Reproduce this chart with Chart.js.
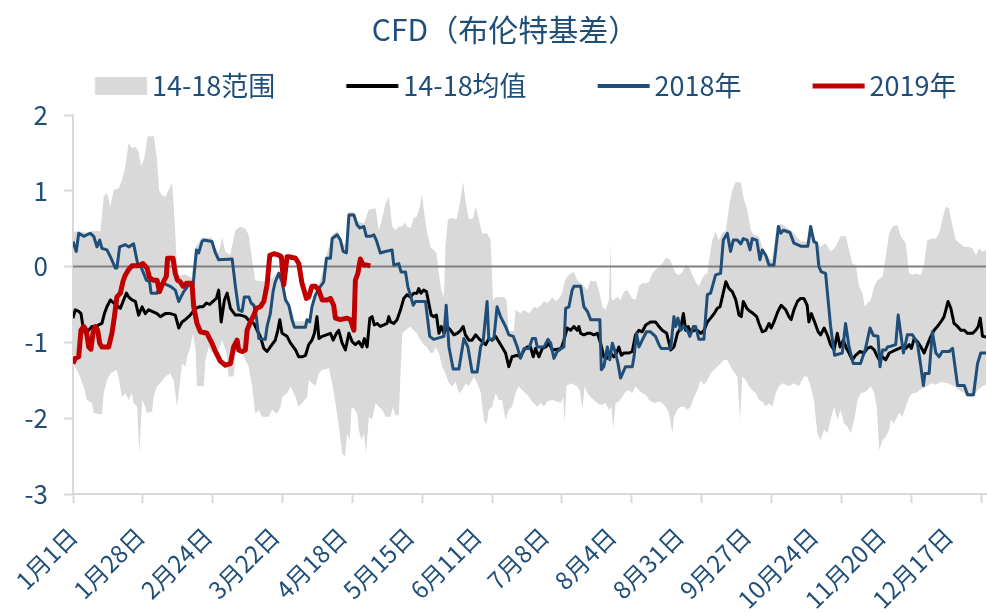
<!DOCTYPE html>
<html>
<head>
<meta charset="utf-8">
<script src="https://cdn.jsdelivr.net/npm/chart.js@4.4.1/dist/chart.umd.min.js"></script>
<style>html,body{margin:0;padding:0;background:#fff}canvas{display:block}</style>
</head>
<body>
<canvas id="c" width="987" height="615"></canvas>
<script>
// ---- categories / tick labels (day index within a 366-day year) ----
const dateLabels = ['1月1日','1月28日','2月24日','3月22日','4月18日','5月15日','6月11日','7月8日','8月4日','8月31日','9月27日','10月24日','11月20日','12月17日'];
const labelDays = [0,27,54,81,108,135,162,189,216,243,270,297,324,351];
const tickMarkDays = [0,28,56,84,112,140,168,196,224,252,280,308,336,364];

// ---- 14-18 range (upper edge) ----
const bandHighDays = [0,2,5,8,11,12.3,13.6,15,16.3,18.3,19.6,21,22.3,23.6,25,26.3,27.3,28.6,29.9,32.4,33.7,34.5,35.6,37,39.7,40.4,41,41.7,42.5,45,47.5,49,51.5,55.7,57.1,58.4,59.8,61,63,65.1,67.1,69.1,70.4,71.8,73.1,76,80,82.5,84,85.5,87,89,93,94.5,96,97.2,99,101.6,103.9,106,108,109.8,110.5,112.6,114,116.6,118.6,121.3,122.6,123.7,125.3,126.6,128,129.3,130.6,132,132.9,134,135.3,136.6,137.9,139,139.9,140.9,141.9,143.3,144.6,145.7,146.7,147.6,148.7,149.3,150.3,152,153.8,155.1,156.4,157.3,158.7,160.4,161.4,162.7,164,166,167.4,168.4,169.4,172.7,173.8,174.7,176.7,177.4,179.4,180.8,182.8,184.8,186.1,187.5,188.8,190.1,191.4,192.1,193.5,194.8,196.1,197.1,198.1,199.5,200.8,202.1,203.5,204.8,206.2,207.5,208.6,209.5,210.8,212.2,213.5,214.8,215.5,215.9,216.8,218.2,219.5,220.9,222.2,224.2,225.5,226.9,228.2,229.6,230.9,232.2,233.5,234.9,236.2,237.6,238.9,240.3,241.6,242.9,244.3,245.6,246.9,248.3,249.6,250.9,252.9,254.3,255,256.3,257.6,258.9,260.3,261.7,263,264.3,265.7,267.7,269,270.3,271.7,273,275,276.3,278.3,280.3,282.1,283.7,286.3,289,291.7,294.3,295.7,297.7,299.7,301.7,303.7,305.7,307.7,309.8,311.1,312.5,313.8,315.1,316.5,317.4,318.5,319.8,321.2,322.5,324.5,325.8,327.2,328.5,330.5,331.8,333.8,335.2,336.5,337.9,339.9,341.2,342.5,344.5,345.9,347.2,348.5,349.9,351.2,352.6,353.9,355.3,357.3,359.3,360.6,362,363.3,364.6,366];
const bandHighVals = [0.45,0.47,0.45,0.47,0.47,0.92,0.97,0.79,1.01,1.03,1.14,1.32,1.63,1.56,1.58,1.52,1.32,1.43,1.72,1.72,1.41,1.01,0.94,0.92,1.10,0.79,0.44,0.0,-0.12,-0.10,-0.15,0.25,0.38,0.38,0.25,0.18,0.39,0.20,0.15,0.48,0.53,0.50,0.42,0.09,-0.18,-0.20,-0.15,-0.05,-0.10,-0.40,-0.50,-0.72,-0.72,-0.68,-0.48,-0.33,-0.20,0.15,0.42,0.47,0.30,0.30,0.72,0.72,0.60,0.57,0.75,0.77,0.48,0.61,0.83,0.92,0.53,0.48,0.53,0.53,0.59,0.53,0.51,0.64,0.66,0.79,0.95,0.68,0.46,0.26,0.22,0.18,-0.09,-0.31,-0.40,0.26,0.62,0.64,0.62,0.84,1.12,0.88,0.62,0.64,0.79,0.62,0.44,0.44,0.35,-0.44,-0.40,-0.40,-0.44,-0.85,-0.85,-0.57,-0.62,-0.57,-0.62,-0.53,-0.55,-0.51,-0.46,-0.48,-0.44,-0.40,-0.46,-0.42,-0.35,-0.20,-0.13,-0.09,-0.07,-0.18,-0.22,-0.26,-0.31,-0.18,-0.20,-0.18,-0.31,-0.53,-0.57,-0.44,0.31,-0.44,-0.44,-0.40,-0.44,-0.33,-0.31,-0.42,-0.44,-0.26,-0.22,-0.22,-0.20,-0.09,-0.04,0.00,0.04,0.11,0.11,0.02,-0.09,-0.11,-0.07,0.02,0.00,-0.11,-0.20,-0.26,-0.11,-0.09,0.09,0.35,0.46,0.35,0.44,0.48,0.79,1.01,1.12,1.11,0.88,0.75,0.48,0.42,0.40,0.26,0.13,0.09,0.53,0.57,0.51,0.44,0.33,0.33,0.55,0.35,0.26,0.31,0.20,0.26,0.40,0.40,0.22,0.04,0.02,-0.26,-0.35,-0.53,-0.48,-0.44,-0.26,-0.18,-0.13,0.13,0.44,0.53,0.55,0.40,0.31,-0.09,-0.11,-0.09,-0.11,0.04,0.35,0.37,0.37,0.44,0.62,0.79,0.77,0.53,0.35,0.31,0.26,0.26,0.24,0.15,0.24,0.20,0.22];

// ---- 14-18 range (lower edge) ----
const bandLowDays = [0,2.3,4.3,5.6,7.6,8.3,11.6,12.3,13.6,15,17.6,18.7,19.6,21,22.3,23.6,24.3,25.7,26.6,27.7,29,29.7,31.7,32.3,33.7,35,37,39,40.4,41.7,43,43.7,45.1,45.7,47.1,48.1,49.1,49.7,52.4,53.1,54.4,55.7,57.1,58.4,59.8,61.5,62.4,64.4,65.1,66.4,67.8,69.1,70.4,71.8,73.1,74.5,75.8,78.5,79.8,81.8,83.2,83.8,85.8,87.2,89.2,90.5,91.8,93.9,94.5,95.9,97.2,98.5,99.9,102.6,103.9,105.2,106.6,107.9,109,109.9,110.9,111.7,113,113.9,114.6,115.7,116.6,117.5,118.6,119.9,121.3,122.6,123.9,125.3,127.3,128.2,129.3,130.6,131.3,132,133.3,135.3,136.6,137.9,139.3,140.6,141.9,143.3,144.4,145.3,146.7,148,149.3,150.7,152,153.4,154.7,156,157.4,158.7,160.7,162,163.4,164.7,165.8,166.7,168,169.4,170.7,172,173.4,174.7,176,177.4,178.7,180.1,182.1,184.1,186.1,187.5,188.8,190.1,192.1,194.1,195.5,196.5,197.1,197.8,199.5,200.8,202.1,203.2,204.2,205.1,206.2,207.5,209.5,210.8,212.2,213.5,214.8,215.8,216.6,217.5,218.8,220.2,221.5,222.9,224.2,225.5,226.9,228.2,229.6,230.9,232.9,234.9,236.2,237.6,238.9,240.3,240.9,242.3,243.6,244.9,246.3,247.6,249,250.3,251.6,253,254.3,255.6,257,258.3,259.6,261,262.3,263.6,265,266.3,267.4,268.3,269.7,271,272.3,273.7,275,276.3,277.7,279,280.3,281.7,283,284.3,285.7,287,289,291,293,294.3,295.7,297,298.4,299.7,301.1,302.4,303.7,305.1,306.4,307.7,309.1,310.4,311.8,313.2,314.5,315.8,317.8,319.8,321.2,322.2,323.2,324.5,325.8,327.2,327.8,328.9,329.8,331.2,332.5,333.8,335.2,336.5,337.9,339.2,340.5,342.5,343.9,345.9,347.9,350.6,353.2,355.3,357.3,358.6,361,362.6,364.6,366];
const bandLowVals = [-1.27,-1.41,-1.59,-1.76,-1.80,-1.93,-1.95,-1.67,-1.50,-1.41,-1.36,-1.54,-1.72,-1.67,-1.76,-1.67,-1.80,-1.85,-2.46,-1.76,-1.85,-1.93,-1.91,-1.72,-1.58,-1.54,-1.45,-1.41,-1.50,-1.85,-1.50,-1.28,-1.32,-1.19,-1.06,-0.88,-1.10,-1.58,-1.58,-1.23,-1.06,-1.14,-1.06,-1.10,-0.97,-1.14,-1.45,-1.45,-1.14,-1.06,-1.14,-1.23,-1.32,-1.58,-1.94,-1.89,-1.98,-1.98,-1.89,-1.94,-1.85,-1.72,-1.67,-1.58,-1.72,-1.85,-1.80,-1.72,-1.50,-1.54,-1.58,-1.41,-1.36,-1.34,-1.54,-1.80,-2.11,-2.46,-2.51,-2.20,-2.29,-1.85,-1.89,-1.94,-2.16,-2.29,-2.20,-2.46,-1.98,-2.02,-1.80,-1.85,-1.89,-1.98,-1.98,-1.85,-1.96,-1.96,-1.41,-0.88,-0.84,-0.79,-0.84,-0.88,-0.97,-1.03,-1.06,-1.14,-1.14,-1.06,-1.14,-1.32,-1.41,-1.54,-1.58,-1.52,-1.67,-1.63,-1.54,-1.58,-1.45,-1.54,-1.65,-2.02,-2.09,-1.89,-1.85,-1.67,-1.76,-1.76,-2.02,-1.89,-1.85,-1.67,-1.58,-1.63,-1.69,-1.78,-1.85,-1.80,-1.85,-1.78,-1.76,-1.78,-1.80,-1.72,-2.07,-1.58,-1.54,-1.56,-1.58,-1.63,-1.89,-1.58,-1.67,-1.72,-1.78,-1.82,-1.82,-1.80,-1.89,-1.85,-2.13,-1.80,-1.78,-1.72,-1.65,-1.63,-1.67,-1.58,-1.63,-1.67,-1.69,-1.76,-1.80,-1.78,-1.80,-1.85,-1.93,-2.20,-1.98,-1.89,-1.85,-1.85,-1.89,-1.85,-1.72,-1.63,-1.50,-1.56,-1.50,-1.41,-1.36,-1.32,-1.28,-1.23,-1.23,-1.32,-1.39,-1.45,-2.02,-1.45,-1.50,-1.58,-1.63,-1.67,-1.76,-1.78,-1.85,-1.80,-1.85,-1.67,-1.58,-1.54,-1.56,-1.58,-1.54,-1.58,-1.45,-1.45,-1.58,-1.76,-2.20,-2.29,-2.15,-2.20,-2.02,-1.85,-2.02,-1.89,-2.07,-2.11,-2.20,-2.02,-1.76,-1.67,-1.65,-1.58,-1.67,-1.85,-2.42,-2.29,-2.24,-2.15,-2.02,-2.07,-2.02,-1.93,-1.98,-1.85,-1.72,-1.67,-1.67,-1.63,-1.61,-1.58,-1.54,-1.56,-1.52,-1.54,-1.58,-1.63,-1.67,-1.72,-1.72,-1.63,-1.58,-1.56];

// ---- 14-18 average ----
const avgDays = [0,0.9,2.3,3.2,4,4.9,6.3,7.6,8.9,10.3,11.6,12.6,13.6,15,16.3,17.6,19,20.3,21.4,22.3,23.6,25,26.3,27.7,29,30.3,31.7,33.7,35,37,39,41,42.4,43.7,45,47,49.1,50.8,52.1,53.5,54.8,56.1,57.5,58.4,59.4,60.7,61.8,63.1,65.1,67.1,69.1,71.1,72.5,73.8,75.1,76.5,77.8,79.1,81.1,82.1,82.9,83.8,85.8,87.2,89.2,90.5,91.8,93.2,94.5,95.8,96.8,97.8,98.6,99.9,101.6,103.2,104.3,105.6,106.5,107.9,109.2,110.6,111.9,113.2,114.6,115.9,116.8,117.9,119,119.9,120.8,121.9,123.2,124.6,125.9,126.6,127.3,128.6,129.9,131.3,132.6,133.9,135.3,136.6,137.9,138.6,139.5,140.6,141.7,142.6,143.6,144.6,145.7,146.7,147.6,148.7,150,151.4,152.7,154,155.4,156.4,157.3,158.7,160,161.4,162.7,164,165.4,166.7,168,169.4,170.7,172,173.4,174.7,176,178.1,179.4,180.8,182.1,183.4,184.5,185.4,186.8,188.1,189.5,190.8,192.1,194.1,195.7,196.8,198.1,199.5,200.8,202.1,202.8,203.5,204.8,206.2,207.5,208.8,210.2,211.5,212.8,214.2,215.5,216.8,217.9,218.8,219.8,220.9,222.9,224.2,225.5,226.9,228.2,229.6,231.5,233.5,234.9,236.2,238,239.6,240.9,242.3,243.6,244.7,245.6,246.6,247.6,249,250.3,251.7,253,254.3,255.6,257,258.3,259.4,260.3,261.7,263,264.3,265.7,267,267.9,268.7,270.1,271.4,272.7,274.1,275,276.3,277.7,279,279.9,281,282.6,283.9,285.7,287,287.9,289,290.4,291.7,293,294.3,295,296,297.3,298.7,299.7,301.1,302.4,303.7,305.1,306.4,307.5,308.8,310.1,311.1,312.4,313.7,315.5,317.1,318.4,319.8,321.2,322.2,323.2,324.5,325.8,327.2,328.5,329.8,331.2,332.5,333.8,335.2,336.1,337.2,338.5,339.9,341.2,342.5,343.9,345.2,346.5,347.9,349.2,350.8,351.9,353.2,354.6,355.9,357.3,358.6,360.6,361.9,362.9,363.7,364.6,366];
const avgVals = [-0.68,-0.57,-0.59,-0.62,-0.79,-0.88,-0.84,-0.79,-0.81,-0.77,-0.75,-0.62,-0.53,-0.44,-0.48,-0.51,-0.55,-0.44,-0.35,-0.40,-0.44,-0.46,-0.64,-0.53,-0.62,-0.57,-0.59,-0.62,-0.66,-0.62,-0.62,-0.64,-0.81,-0.73,-0.70,-0.64,-0.55,-0.53,-0.53,-0.48,-0.50,-0.46,-0.42,-0.31,-0.73,-0.44,-0.35,-0.55,-0.64,-0.64,-0.66,-0.73,-0.75,-0.84,-0.92,-1.08,-1.12,-1.06,-0.97,-0.84,-0.70,-0.88,-0.92,-1.01,-1.10,-1.19,-1.19,-1.17,-1.03,-0.97,-0.88,-0.66,-0.95,-0.92,-0.90,-0.88,-0.97,-0.88,-0.84,-1.01,-1.10,-0.88,-0.99,-1.03,-0.99,-1.06,-0.95,-1.06,-0.68,-0.66,-0.77,-0.75,-0.79,-0.77,-0.75,-0.66,-0.73,-0.75,-0.70,-0.57,-0.42,-0.37,-0.40,-0.35,-0.35,-0.29,-0.35,-0.31,-0.33,-0.48,-0.64,-0.66,-0.64,-0.88,-0.79,-0.88,-0.79,-0.84,-0.90,-0.88,-0.84,-0.79,-0.90,-0.97,-0.97,-0.90,-0.95,-0.99,-1.03,-0.95,-0.97,-0.92,-0.99,-1.06,-1.14,-1.32,-1.19,-1.17,-1.19,-1.10,-1.06,-1.06,-1.19,-1.08,-1.19,-1.08,-1.06,-1.01,-1.10,-1.09,-1.08,-0.97,-0.81,-0.84,-0.79,-0.84,-0.79,-0.88,-0.90,-0.88,-0.88,-0.90,-0.88,-1.01,-1.19,-1.21,-1.14,-1.19,-1.14,-1.06,-1.17,-1.14,-1.14,-1.12,-0.90,-0.84,-0.86,-0.77,-0.73,-0.73,-0.79,-0.84,-0.88,-1.10,-1.06,-0.88,-0.81,-0.62,-0.84,-0.79,-0.86,-0.84,-0.84,-0.88,-0.84,-0.73,-0.68,-0.62,-0.55,-0.53,-0.40,-0.20,-0.29,-0.33,-0.44,-0.64,-0.66,-0.46,-0.55,-0.59,-0.62,-0.66,-0.75,-0.86,-0.84,-0.75,-0.81,-0.73,-0.59,-0.51,-0.57,-0.66,-0.70,-0.57,-0.46,-0.42,-0.42,-0.51,-0.73,-0.62,-0.73,-0.86,-0.90,-0.81,-0.90,-1.03,-1.10,-0.88,-1.06,-0.97,-1.08,-1.14,-1.23,-1.17,-1.12,-1.14,-1.08,-1.06,-1.10,-1.17,-1.23,-1.19,-1.23,-1.14,-1.12,-1.10,-1.08,-1.06,-1.08,-1.03,-1.08,-0.95,-0.99,-1.06,-1.14,-1.03,-0.92,-0.84,-0.79,-0.73,-0.66,-0.46,-0.55,-0.75,-0.79,-0.84,-0.84,-0.88,-0.88,-0.84,-0.79,-0.68,-0.92,-0.93];

// ---- 2018 ----
const y2018Days = [0,1.3,2.3,4.3,6.9,8.3,9.6,10.7,11.6,13.6,15,17,17.6,18.7,21,22.3,24.3,25.9,27,29.4,30.7,31.3,33.7,34.7,36.3,39,41,42.4,43.3,44.4,46.4,48.1,49.5,50.4,51.7,52.4,55.7,57.1,58.4,63.8,65.1,66.4,67.8,68.7,70.5,71.4,72.5,73.5,74.5,77.1,77.8,79.1,80.2,81.1,82.5,83.8,85.2,86.5,87.8,88.8,93.2,93.8,94.9,95.8,97.2,99.2,100.5,101.6,103.2,103.9,105.9,107.2,108.3,109.6,110.6,112.6,113.9,115,116.6,117.6,119.2,120.6,121.6,123.2,125.2,127.9,128.6,130.6,131.5,133.3,134.2,136.4,137.3,141.3,143,144.6,148.7,149.6,150.7,152.4,154.7,156.7,158.3,160,162,163.4,164.4,166,166.7,168.7,170,171.4,173.4,174.7,176.5,178.1,179.4,180.8,182.8,184.1,185.4,186.1,188.8,190.4,191.5,192.8,194.1,195.7,196.8,197.5,198.8,200.1,200.8,203.5,204.8,206.2,207.5,211.2,211.8,212.8,214.2,215.2,216.2,217.5,218.5,219.5,221.5,224.2,224.9,225.9,226.9,228.2,229.9,231.5,233.5,234.9,235.8,239.6,240.9,241.6,242.5,243.6,244.9,246.3,247.3,248.7,249.6,250.9,252.9,254.3,255.6,257.6,259.6,260.7,262.3,263.6,264.7,266.3,267.7,268.7,270.3,271.4,272.3,274.1,275.4,276.3,277.7,279,281,282.8,283.7,284.8,287.4,289,290.4,291.7,294.6,295.7,297,298.1,299,300,301.7,303.7,305.3,308.4,309.7,311.1,312.8,315.7,317.7,319.5,320.9,322.7,323.5,324.5,325.8,326.5,327.8,329.8,330.8,331.8,332.9,334.5,336.5,338.5,339.9,340.9,341.5,343.2,344.5,345.9,347.2,348.5,351.2,352.6,354.6,357.3,358.6,361,362.6,363.9,366];
const y2018Vals = [0.33,0.20,0.44,0.40,0.44,0.40,0.26,0.35,0.24,0.22,0.13,-0.02,-0.02,0.26,0.29,0.26,0.30,0.04,0.02,-0.18,-0.20,-0.35,-0.35,-0.26,-0.22,-0.26,-0.31,-0.46,-0.40,-0.33,-0.24,-0.26,0.22,0.18,0.33,0.35,0.33,0.18,0.09,0.10,-0.26,-0.57,-0.59,-0.40,-0.40,-0.48,-0.51,-0.66,-0.95,-0.96,-0.79,-0.62,-0.33,-0.20,-0.09,-0.20,-0.44,-0.51,-0.70,-0.80,-0.80,-0.70,-0.73,-0.53,-0.37,-0.26,-0.20,0.11,0.11,0.37,0.42,0.35,0.20,0.18,0.68,0.68,0.55,0.51,0.53,0.40,0.40,0.42,0.35,0.18,0.20,0.22,0.02,0.04,-0.07,-0.07,-0.26,-0.51,-0.46,-0.46,-0.92,-0.96,-0.92,-0.51,-1.06,-1.35,-1.35,-0.95,-1.06,-1.39,-1.39,-1.06,-0.99,-0.46,-0.96,-0.96,-0.53,-0.66,-0.79,-0.90,-0.92,-1.06,-1.21,-1.08,-1.08,-0.95,-0.95,-1.06,-1.06,-0.96,-1.01,-1.21,-1.12,-1.08,-1.06,-0.55,-0.53,-0.31,-0.26,-0.26,-0.53,-0.59,-0.70,-0.70,-1.36,-1.32,-1.06,-1.23,-1.01,-1.14,-1.28,-1.47,-1.32,-1.32,-1.19,-0.88,-1.06,-0.97,-0.86,-0.86,-0.92,-1.03,-1.08,-1.08,-0.66,-0.79,-0.68,-0.84,-0.79,-0.84,-0.92,-0.79,-0.79,-0.96,-0.96,-0.37,-0.35,-0.11,-0.09,0.35,0.44,0.20,0.35,0.35,0.30,0.37,0.35,0.22,0.37,0.35,0.09,0.22,0.15,0.02,0.02,0.53,0.44,0.48,0.45,0.31,0.29,0.27,0.27,0.53,0.33,0.31,0.00,-0.07,-0.09,-0.79,-1.17,-1.14,-0.75,-1.06,-1.28,-1.28,-1.08,-0.81,-0.91,-0.92,-1.32,-1.10,-1.10,-1.06,-1.05,-1.03,-0.64,-0.88,-1.14,-0.90,-0.90,-1.01,-1.32,-1.57,-1.41,-1.41,-0.86,-1.14,-1.19,-1.12,-1.12,-1.08,-1.57,-1.57,-1.69,-1.69,-1.28,-1.14,-1.14];

// ---- 2019 ----
const y2019Days = [0,0.9,2.3,3.2,4.3,5.3,6.3,7.2,8,8.9,9.9,10.7,11.6,14.3,15.6,16.6,17.6,19,20,21,22.3,23.6,26.3,28.1,29.7,30.7,32.3,33.7,34.7,35.7,36.3,37.4,37.9,40.1,41,41.9,43,44.1,45.4,47.7,48.4,49.7,51.1,53.7,55.7,57.1,59.1,61.1,63.1,64.4,65.8,66.4,67.8,69.1,69.8,71.1,72.5,73.5,75.1,76.5,77.8,78.9,80.5,82.5,83.5,84.5,85.8,86.5,89.2,90.5,91.8,93.6,94.5,95.8,97.2,98.5,99.9,101.9,103.2,104.5,105.2,107.2,109.9,111.2,112.6,113.2,114.2,115.2,116.3,117.9,119.2];
const y2019Vals = [-1.28,-1.21,-1.19,-0.84,-0.79,-0.84,-1.06,-1.09,-0.88,-0.79,-0.84,-1.01,-1.06,-1.06,-0.88,-0.66,-0.40,-0.35,-0.20,-0.11,-0.04,0.01,0.01,0.04,-0.02,-0.15,-0.18,-0.18,-0.33,-0.24,-0.20,-0.13,0.11,0.11,-0.09,-0.18,-0.20,-0.26,-0.22,-0.22,-0.53,-0.75,-0.86,-0.88,-1.01,-1.12,-1.25,-1.30,-1.28,-1.06,-0.97,-1.10,-1.12,-1.10,-0.84,-0.73,-0.64,-0.55,-0.53,-0.46,-0.24,0.15,0.17,0.15,0.13,-0.24,0.13,0.13,0.11,0.04,-0.22,-0.42,-0.40,-0.26,-0.26,-0.31,-0.44,-0.44,-0.42,-0.51,-0.68,-0.70,-0.68,-0.70,-0.84,-0.18,-0.09,0.10,0.02,0.02,0.01];

// ---- zero reference level ----
const zeroDays = [0, 366];
const zeroVals = [0, 0];

const TEXT = '#1F4E79';
const FONT = "'Noto Sans CJK SC', 'Noto Sans', sans-serif";
Chart.defaults.font.family = FONT;
Chart.defaults.color = TEXT;

const pts = (xs, ys) => xs.map((x, i) => ({x: x, y: ys[i]}));
const bandPoints = pts(bandHighDays, bandHighVals).concat(pts(bandLowDays, bandLowVals).reverse());
const allTickDays = Array.from(new Set(labelDays.concat(tickMarkDays))).sort((a, b) => a - b);

// legend swatches: a 52px wide key placed inside a wider legend slot
const SLOT = 104.5, KEY_W = 52, KEY_SHIFT = SLOT / 2 - 17.5;
function legendKey(kind, color, thick) {
  const c = document.createElement('canvas');
  c.width = 2 * Math.ceil(KEY_SHIFT + KEY_W / 2 + 2);
  c.height = 20;
  const g = c.getContext('2d');
  g.fillStyle = color;
  const x0 = c.width / 2 + KEY_SHIFT - KEY_W / 2;
  if (kind === 'rect') g.fillRect(x0, 1, KEY_W, 18);
  else g.fillRect(x0, 10 - thick / 2, KEY_W, thick);
  return c;
}

const lineBase = {pointRadius: 0, pointHoverRadius: 0, tension: 0, borderJoinStyle: 'round', borderCapStyle: 'butt', fill: false};

new Chart(document.getElementById('c'), {
  type: 'line',
  data: {
    datasets: [
      Object.assign({}, lineBase, {label: '14-18范围', data: bandPoints, fill: 'shape', backgroundColor: '#D9D9D9', borderColor: 'rgba(0,0,0,0)', borderWidth: 0, order: 5,
        legendKey: legendKey('rect', '#D9D9D9', 18)}),
      Object.assign({}, lineBase, {label: '14-18均值', data: pts(avgDays, avgVals), borderColor: '#000000', borderWidth: 3, order: 3,
        legendKey: legendKey('line', '#000000', 4)}),
      Object.assign({}, lineBase, {label: '2018年', data: pts(y2018Days, y2018Vals), borderColor: '#1F4E79', borderWidth: 3, order: 2,
        legendKey: legendKey('line', '#1F4E79', 4)}),
      Object.assign({}, lineBase, {label: '2019年', data: pts(y2019Days, y2019Vals), borderColor: '#C00000', borderWidth: 5, order: 1,
        legendKey: legendKey('line', '#C00000', 5)}),
      Object.assign({}, lineBase, {label: '', data: pts(zeroDays, zeroVals), borderColor: '#808080', borderWidth: 2, order: 4})
    ]
  },
  options: {
    responsive: false,
    animation: false,
    devicePixelRatio: 1,
    events: [],
    layout: {padding: {top: 0, left: 24, right: 1, bottom: 0}},
    plugins: {
      tooltip: {enabled: false},
      title: {
        display: true,
        text: 'CFD（布伦特基差）',
        color: TEXT,
        font: {size: 30, weight: 'normal', lineHeight: 1.2},
        padding: {top: 6, bottom: 14.5}
      },
      subtitle: {
        display: true,
        text: '',
        weight: 500,
        padding: 0,
        font: {size: 5.5, lineHeight: 1}
      },
      legend: {
        display: true,
        position: 'top',
        align: 'start',
        fullSize: true,
        labels: {
          usePointStyle: true,
          pointStyleWidth: SLOT,
          boxHeight: 18,
          padding: 10,
          color: TEXT,
          font: {size: 27},
          generateLabels: (chart) => chart.data.datasets
            .map((ds, i) => ({
              text: ds.label, datasetIndex: i, hidden: false,
              pointStyle: ds.legendKey, fillStyle: 'rgba(0,0,0,0)',
              strokeStyle: 'rgba(0,0,0,0)', lineWidth: 0, fontColor: TEXT
            }))
            .filter(item => item.text)
        }
      }
    },
    scales: {
      x: {
        type: 'linear',
        min: 0,
        max: 366,
        bounds: 'data',
        afterBuildTicks: (scale) => { scale.ticks = allTickDays.map(v => ({value: v})); },
        afterFit: (scale) => { scale.paddingLeft = 0; scale.paddingRight = 0; scale.height = 121; },
        ticks: {
          autoSkip: false,
          minRotation: 45,
          maxRotation: 45,
          padding: 19,
          color: TEXT,
          font: {size: 24},
          callback: (v) => { const i = labelDays.indexOf(v); return i >= 0 ? dateLabels[i] : ''; }
        },
        grid: {
          drawOnChartArea: false,
          drawTicks: true,
          tickLength: 9,
          tickWidth: 2,
          tickColor: (ctx) => (ctx.tick && tickMarkDays.indexOf(ctx.tick.value) >= 0) ? '#D9D9D9' : 'rgba(0,0,0,0)'
        },
        border: {color: '#D9D9D9', width: 2}
      },
      y: {
        min: -3,
        max: 2,
        afterFit: (scale) => { scale.width = 49; scale.paddingTop = 115; },
        ticks: {stepSize: 1, padding: 16, color: TEXT, font: {size: 26}},
        grid: {drawOnChartArea: false, drawTicks: true, tickLength: 9, tickWidth: 2, tickColor: '#D9D9D9'},
        border: {color: '#D9D9D9', width: 2}
      }
    }
  }
});
</script>
</body>
</html>
